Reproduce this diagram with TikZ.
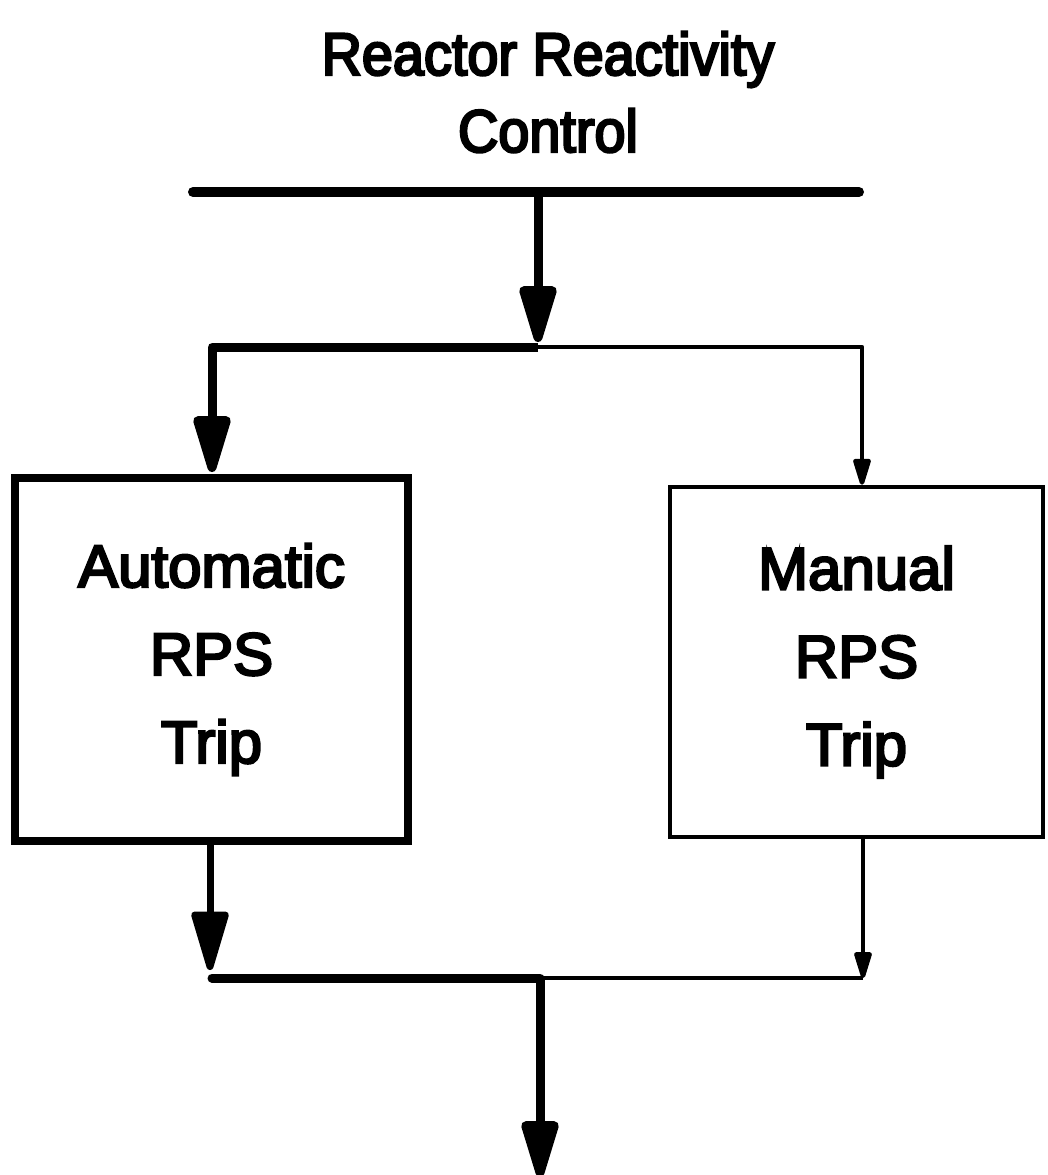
\documentclass[tikz,border=0pt]{standalone}
\usepackage{fontspec}
\setmainfont{Liberation Sans}
\newfontfamily\heavyfont[BoldFont={Liberation Sans},BoldFeatures={FakeBold=4}]{Liberation Sans}
\newfontfamily\heavytitle[FakeStretch=0.93,BoldFont={Liberation Sans},BoldFeatures={FakeBold=4,FakeStretch=0.93}]{Liberation Sans}
\usetikzlibrary{arrows.meta}
\begin{document}
\begin{tikzpicture}[x=1pt,y=-1pt,
  heavy/.style={line width=9pt},
  light/.style={line width=4.5pt},
  bigtip/.style={-{Triangle[length=68pt,width=38pt,round]}},
  smalltip/.style={-{Triangle[length=32pt,width=18pt,round]}},
  titletext/.style={inner sep=0pt,align=center,font=\heavytitle\bfseries\fontsize{60pt}{77pt}\selectfont},
  boxtext/.style={inner sep=0pt,align=center,font=\heavyfont\bfseries\fontsize{60pt}{88pt}\selectfont},
  autobox/.style={boxtext,draw,line width=8pt,minimum width=393pt,minimum height=363pt},
  manbox/.style={boxtext,draw,line width=4.5pt,minimum width=373pt,minimum height=350pt}
]
\useasboundingbox[fill=white] (0,0) rectangle (1047,1175);

\node[titletext] (title) at (548,92) {Reactor Reactivity\\Control};

\coordinate (barL) at (193,192);
\coordinate (barR) at (859,192);
\coordinate (barM) at (538,192);
\coordinate (topTip) at (538,342);
\coordinate (splitM) at (538,347);
\coordinate (splitL) at (212,347);
\coordinate (splitR) at (862,347);

\node[autobox] (auto) at (211.5,659.5) {Automatic\\RPS\\Trip};
\node[manbox] (man) at (856.5,662) {Manual\\RPS\\Trip};

\coordinate (aTip) at (210,970);
\coordinate (joinL) at (212,978);
\coordinate (joinM) at (540,978);
\coordinate (joinR) at (863,978);
\coordinate (outEnd) at (540,1177);

% top bar and feed arrow
\draw[line width=10pt,line cap=round] (barL) -- (barR);
\draw[heavy,bigtip] (barM) -- (topTip);

% split to the two trips
\draw[heavy,line join=round,bigtip,shorten >=2pt] (splitM) -- (splitL) -- (auto.north -| splitL);
\draw[light,line join=round,smalltip] (splitM) -- (splitR) -- (man.north -| splitR);

% outputs of the trips
\draw[line width=7pt,bigtip] (auto.south -| aTip) -- (aTip);
\draw[light,smalltip] (man.south -| joinR) -- (joinR);

% join and outgoing arrow
\draw[heavy,line cap=round] (joinL) -- (joinM);
\draw[light] (joinM) -- (joinR);
\draw[heavy,bigtip] (joinM) -- (outEnd);
\end{tikzpicture}
\end{document}
